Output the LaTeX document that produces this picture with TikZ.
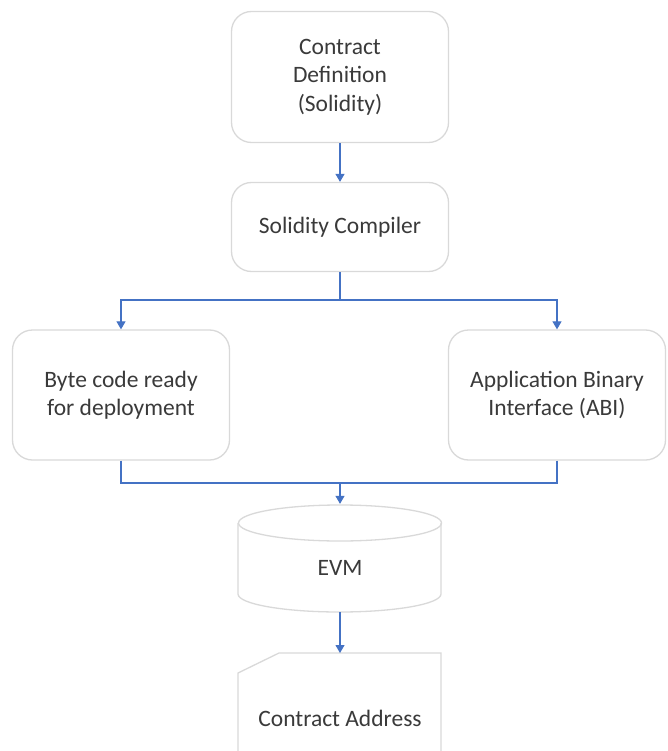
\documentclass[tikz,border=0pt]{standalone}
\usepackage{fontspec}
\setmainfont{Carlito}
\usepackage{tikz}
\usetikzlibrary{arrows.meta}
\definecolor{kenarGri}{HTML}{D9D9D9}
\definecolor{okMavi}{HTML}{4472C4}
\definecolor{yaziGri}{HTML}{3A3A3A}

\begin{document}
\begin{tikzpicture}[x=1pt,y=-1pt,
  box/.style={draw=kenarGri,line width=1.3pt,rounded corners=20pt,fill=white,
    text=yaziGri,align=center,minimum width=217pt,font=\fontsize{23.5}{28.5}\selectfont},
  link/.style={draw=okMavi,line width=1.1pt},
  arr/.style={link,-{Triangle[width=9pt,length=8pt]}}]
\useasboundingbox[fill=white] (0,0) rectangle (668,751);
\node[box,minimum height=131pt] (def) at (340,77) {Contract\\Definition\\(Solidity)};
\node[box,minimum height=89pt] (comp) at (340,227) {Solidity Compiler};
\node[box,minimum height=130pt] (byte) at (121,395) {Byte code ready\\for deployment};
\node[box,minimum height=130pt] (abi) at (557,395) {Application Binary\\Interface (ABI)};
% cylinder
\draw[kenarGri,line width=1.3pt] (238,523) -- (238,594) arc[start angle=180,end angle=360,x radius=101.5pt,y radius=18pt] -- (441,523);
\draw[kenarGri,line width=1.3pt] (340,523) ellipse[x radius=101.5pt,y radius=18pt];
\node[box,draw=none,fill=none,minimum width=203pt,minimum height=107pt,
  text height=35pt,text depth=0pt] (evm) at (340,558) {EVM};
% card
\draw[kenarGri,line width=1.3pt] (441,760) -- (441,653) -- (279,653) -- (238,673) -- (238,760);
\coordinate (cardtop) at (340,653);
\node[text=yaziGri,font=\fontsize{23.5}{28.5}\selectfont] (addr) at (340,718) {Contract Address};
\coordinate (split) at (340,300);
\coordinate (join) at (340,483);
\draw[arr] (def) -- (comp);
\draw[link] (comp) -- (split);
\draw[arr] (split) -| (byte);
\draw[arr] (split) -| (abi);
\draw[link] (byte) |- (join);
\draw[link] (abi) |- (join);
\draw[arr] (join) -- (evm);
\draw[arr] (evm) -- (cardtop);
\end{tikzpicture}
\end{document}
